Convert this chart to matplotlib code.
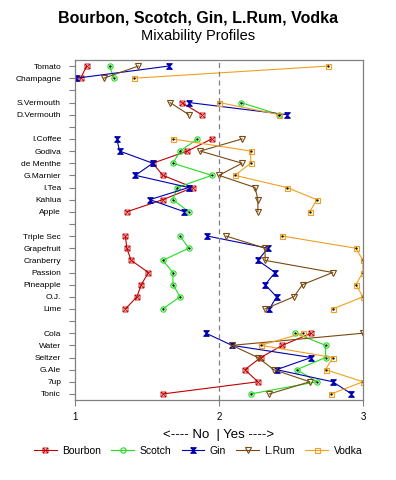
import matplotlib
matplotlib.use('Agg')
import matplotlib.pyplot as plt
from matplotlib.path import Path
import numpy as np

nan = np.nan

# rows from top to bottom, '' = gap between groups
labels = ['Tomato', 'Champagne', '', 'S.Vermouth', 'D.Vermouth', '',
          'I.Coffee', 'Godiva', 'de Menthe', 'G.Marnier', 'I.Tea', 'Kahlua', 'Apple', '',
          'Triple Sec', 'Grapefruit', 'Cranberry', 'Passion', 'Pineapple', 'O.J.', 'Lime', '',
          'Cola', 'Water', 'Seltzer', 'G.Ale', '7up', 'Tonic']

bourbon = [1.08, 1.04, nan, 1.74, 1.88, nan,
           1.95, 1.78, 1.54, 1.61, 1.82, 1.61, 1.36, nan,
           1.35, 1.36, 1.39, 1.51, 1.46, 1.43, 1.35, nan,
           2.64, 2.44, 2.29, 2.18, 2.27, 1.61]
scotch = [1.24, 1.27, nan, 2.15, 2.42, nan,
          1.85, 1.73, 1.68, 1.95, 1.71, 1.68, 1.79, nan,
          1.73, 1.79, 1.61, 1.68, 1.68, 1.73, 1.61, nan,
          2.53, 2.74, 2.74, 2.54, 2.68, 2.22]
gin = [1.65, 1.01, nan, 1.79, 2.47, nan,
       1.29, 1.31, 1.54, 1.42, 1.79, 1.52, 1.76, nan,
       1.92, 2.34, 2.27, 2.39, 2.32, 2.40, 2.35, nan,
       1.91, 2.09, 2.64, 2.40, 2.79, 2.92]
lrum = [1.44, 1.20, nan, 1.66, 1.79, nan,
        2.16, 1.87, 2.16, 2.00, 2.25, 2.27, 2.27, nan,
        2.05, 2.32, 2.32, 2.79, 2.58, 2.52, 2.32, nan,
        3.00, 2.09, 2.27, 2.38, 2.63, 2.35]
vodka = [2.76, 1.41, nan, 2.00, 2.42, nan,
         1.68, 2.22, 2.22, 2.11, 2.47, 2.68, 2.63, nan,
         2.44, 2.95, 3.00, 3.00, 2.95, 3.00, 2.79, nan,
         2.58, 2.29, 2.79, 2.74, 3.00, 2.78]

series_names = ['Bourbon', 'Scotch', 'Gin', 'L.Rum', 'Vodka']
series_vals = [bourbon, scotch, gin, lrum, vodka]

plt.rcParams['font.family'] = ['Liberation Sans', 'DejaVu Sans']

# custom markers
box_x = Path([(-1, -1), (1, -1), (1, 1), (-1, 1), (-1, -1), (-1, -1), (1, 1), (-1, 1), (1, -1)],
             [Path.MOVETO, Path.LINETO, Path.LINETO, Path.LINETO, Path.LINETO,
              Path.MOVETO, Path.LINETO, Path.MOVETO, Path.LINETO])
hourglass = [(-1, 1), (1, 1), (-1, -1), (1, -1), (-1, 1)]

styles = [
    dict(color='#c00000', marker=box_x, mfc='none', ms=3.6, mew=0.6),
    dict(color='#22dd22', marker='o', mfc='none', ms=3.8, mew=0.8),
    dict(color='#0000b0', marker=hourglass, mfc='#0000b0', ms=4.0, mew=0.8),
    dict(color='#7a4a10', marker='v', mfc='none', ms=4.6, mew=0.8),
    dict(color='#f0a020', marker='s', mfc='none', ms=3.6, mew=0.8),
]
inner = [None, '.', None, None, '.']

fig = plt.figure(figsize=(3.96, 4.8), dpi=100)
ax = fig.add_axes([75 / 396, 1 - 400 / 480, 288 / 396, 340 / 480])

ypos = np.arange(len(labels))
for name, vals, st, inn in zip(series_names, series_vals, styles, inner):
    ax.plot(vals, ypos, lw=0.8, label=name, **st)
    if inn:
        ax.plot(vals, ypos, ls='none', marker='.', ms=1.3, color='black')

ax.axvline(2, color='#808080', ls=(0, (4, 3)), lw=0.9)

ax.set_xlim(1, 3)
ax.set_ylim(len(labels) - 0.5, -0.5)
ax.set_xticks([1, 2, 3])
ax.set_xticklabels(['1', '2', '3'], fontsize=7)
ax.set_yticks(ypos)
ax.set_yticklabels(labels, fontsize=6)
ax.tick_params(axis='y', length=4, width=0.8, color='#808080', pad=6)
ax.tick_params(axis='x', length=4, width=0.8, color='#808080', pad=5)
for sp in ax.spines.values():
    sp.set_color('#808080')
    sp.set_linewidth(0.9)

ax.set_xlabel('<---- No  | Yes ---->', fontsize=9.5, labelpad=5)

fig.text(0.5, 1 - 18 / 480, 'Bourbon, Scotch, Gin, L.Rum, Vodka', ha='center', va='center',
         fontsize=11.5, fontweight='bold')
fig.text(0.5, 1 - 36 / 480, 'Mixability Profiles', ha='center', va='center', fontsize=10.5)

fig.legend(loc='center', bbox_to_anchor=(0.5, 1 - 451 / 480), ncol=5, frameon=False,
           fontsize=7.5, handlelength=2.2, handletextpad=0.5, columnspacing=1.0)

plt.savefig('out.png', dpi=100)
